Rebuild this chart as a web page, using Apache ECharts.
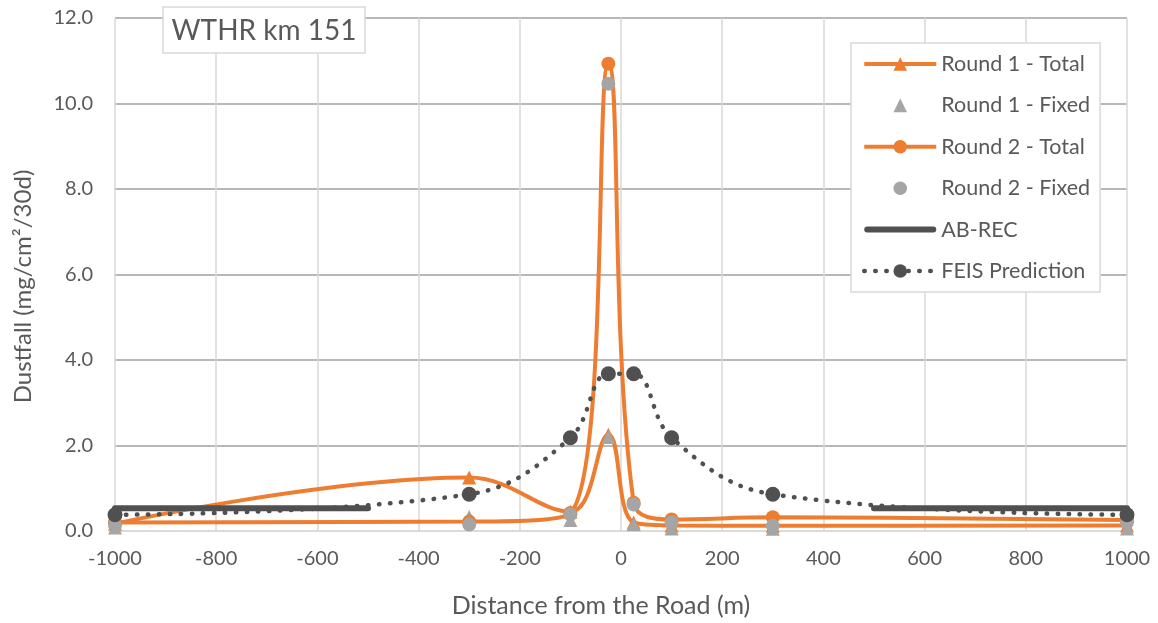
<!DOCTYPE html>
<html>
<head>
<meta charset="utf-8">
<script src="https://cdn.jsdelivr.net/npm/echarts@6/dist/echarts.min.js"></script>
<style>
html,body{margin:0;padding:0;background:#fff;}
#chart{width:1158px;height:623px;}
</style>
</head>
<body>
<div id="chart"></div>
<script>
// ---- data ----
var distances = [-1000, -300, -100, -25, 25, 100, 300, 1000];
var round1Total = [0.17, 1.25, 0.45, 2.25, 0.20, 0.13, 0.12, 0.13];
var round1Fixed = [0.08, 0.33, 0.26, 2.20, 0.16, 0.06, 0.05, 0.06];
var round2Total = [0.20, 0.22, 0.42, 10.93, 0.66, 0.27, 0.32, 0.26];
var round2Fixed = [0.14, 0.15, 0.39, 10.46, 0.62, 0.20, 0.12, 0.20];
var feisPrediction = [0.38, 0.86, 2.18, 3.68, 3.68, 2.18, 0.86, 0.38];
var abRecValue = 0.53;
var abRecLeft = [-1000, -500];
var abRecRight = [500, 1000];
var xTicks = [-1000, -800, -600, -400, -200, 0, 200, 400, 600, 800, 1000];
var yTicks = [0, 2, 4, 6, 8, 10, 12];
var seriesNames = ['Round 1 - Total', 'Round 1 - Fixed', 'Round 2 - Total', 'Round 2 - Fixed', 'AB-REC', 'FEIS Prediction'];
var chartTitle = 'WTHR km 151';
var xName = 'Distance from the Road (m)';
var yName = 'Dustfall (mg/cm\u00B2/30d)';

function pairs(xs, ys) { return xs.map(function (x, i) { return [x, ys[i]]; }); }
var abRecData = abRecLeft.map(function (x) { return [x, abRecValue]; })
  .concat([[0, '-']])
  .concat(abRecRight.map(function (x) { return [x, abRecValue]; }));

var ORANGE = '#ED7D31', GRAY = '#A5A5A5', DARK = '#505050', TEXT = '#595959';
var FONT = 'Lato';

var legendData = seriesNames.map(function (n, i) {
  if (i === 4) {
    return { name: n, icon: 'path://M3,0 L69,0 A3,3 0 0 1 69,6 L3,6 A3,3 0 0 1 3,0 Z', itemStyle: { color: DARK } };
  }
  return { name: n };
});

var chart = echarts.init(document.getElementById('chart'));
chart.setOption({
  animation: false,
  backgroundColor: '#fff',
  textStyle: { fontFamily: FONT, color: TEXT },
  grid: { left: 115, right: 31, top: 18, bottom: 90 },
  graphic: [
    { type: 'rect', z: 100, shape: { x: 163, y: 7, width: 202, height: 46 },
      style: { fill: '#fff', stroke: '#d9d9d9', lineWidth: 1.5 } },
    { type: 'text', z: 101, x: 264, y: 31,
      style: { text: chartTitle, fontFamily: FONT, fontSize: 28, fill: TEXT, align: 'center', verticalAlign: 'middle' } }
  ],
  legend: {
    orient: 'vertical', left: 851, top: 43,
    padding: [10, 10, 10, 11],
    itemWidth: 72, itemHeight: 17, itemGap: 19.4,
    backgroundColor: '#fff', borderColor: '#d9d9d9', borderWidth: 1.5,
    textStyle: { fontFamily: FONT, fontSize: 21.5, color: TEXT, lineHeight: 21 },
    lineStyle: { width: 'inherit' },
    data: legendData
  },
  xAxis: {
    type: 'value', min: xTicks[0], max: xTicks[xTicks.length - 1], interval: 200,
    name: xName, nameLocation: 'middle', nameGap: 62,
    nameTextStyle: { fontFamily: FONT, fontSize: 25, color: TEXT, padding: [0, 40, 0, 0] },
    axisLine: { show: true, onZero: false, lineStyle: { color: '#d9d9d9', width: 1.5 } },
    axisTick: { show: false },
    axisLabel: { fontFamily: FONT, fontSize: 20, color: TEXT, margin: 18,
      formatter: function (v) { return String(v); } },
    splitLine: { show: true, lineStyle: { color: '#d9d9d9', width: 1.5 } }
  },
  yAxis: {
    type: 'value', min: yTicks[0], max: yTicks[yTicks.length - 1], interval: 2,
    name: yName, nameLocation: 'middle', nameGap: 80, nameRotate: 90,
    nameTextStyle: { fontFamily: FONT, fontSize: 24, color: TEXT, padding: [0, 24, 0, 0] },
    axisLine: { show: false }, axisTick: { show: false },
    axisLabel: { fontFamily: FONT, fontSize: 20, color: TEXT, margin: 22,
      formatter: function (v) { return v.toFixed(1); } },
    splitLine: { show: true, lineStyle: { color: ['#d9d9d9', '#a0a0a0', '#a0a0a0', '#a0a0a0', '#a0a0a0', '#a0a0a0', '#a0a0a0'], width: 1.5 } }
  },
  series: [
    { name: seriesNames[0], type: 'line', data: pairs(distances, round1Total), smooth: 0.4, clip: false,
      symbol: 'triangle', symbolSize: 14, lineStyle: { color: ORANGE, width: 4 }, itemStyle: { color: ORANGE } },
    { name: seriesNames[1], type: 'line', data: pairs(distances, round1Fixed), clip: false,
      symbol: 'triangle', symbolSize: 14, lineStyle: { width: 0, opacity: 0 }, itemStyle: { color: GRAY } },
    { name: seriesNames[2], type: 'line', data: pairs(distances, round2Total), smooth: 0.4, clip: false,
      symbol: 'circle', symbolSize: 14, lineStyle: { color: ORANGE, width: 4 }, itemStyle: { color: ORANGE } },
    { name: seriesNames[3], type: 'line', data: pairs(distances, round2Fixed), clip: false,
      symbol: 'circle', symbolSize: 14, lineStyle: { width: 0, opacity: 0 }, itemStyle: { color: GRAY } },
    { name: seriesNames[4], type: 'line', data: abRecData, clip: false, connectNulls: false,
      symbol: 'none', lineStyle: { color: DARK, width: 6, cap: 'round' }, itemStyle: { color: DARK } },
    { name: seriesNames[5], type: 'line', data: pairs(distances, feisPrediction), smooth: 0.4, clip: false,
      symbol: 'circle', symbolSize: 15,
      lineStyle: { color: DARK, width: 4.5, type: [0.5, 10.5], cap: 'round' }, itemStyle: { color: DARK } }
  ]
});
</script>
</body>
</html>
